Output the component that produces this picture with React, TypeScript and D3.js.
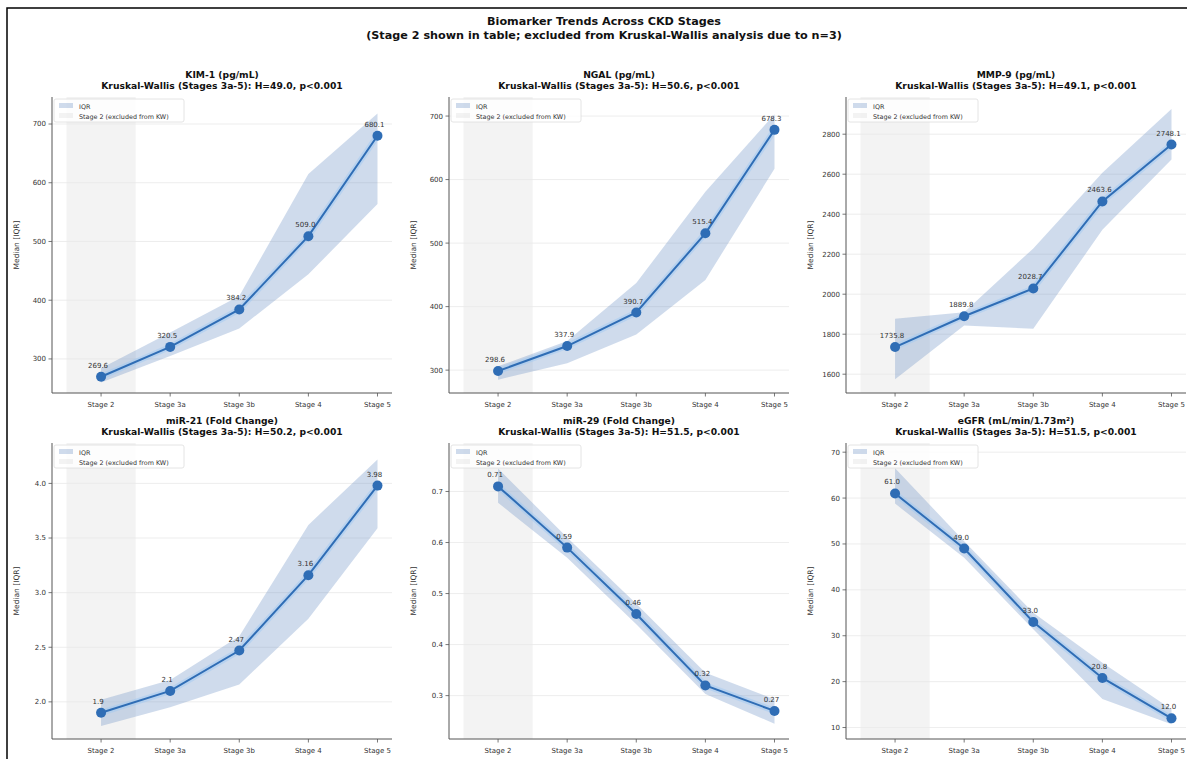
import * as d3 from 'd3'

const stages = ['Stage 2', 'Stage 3a', 'Stage 3b', 'Stage 4', 'Stage 5']

// medians and IQR bounds
const kimMedian = [269.6, 320.5, 384.2, 509.0, 680.1]
const kimQ1 = [260, 305, 352, 444, 564]
const kimQ3 = [284, 345, 407, 615, 718]
const kimLabels = ['269.6', '320.5', '384.2', '509.0', '680.1']

const ngalMedian = [298.6, 337.9, 390.7, 515.4, 678.3]
const ngalQ1 = [285, 311, 356, 442, 617]
const ngalQ3 = [306, 346, 437, 581, 703]
const ngalLabels = ['298.6', '337.9', '390.7', '515.4', '678.3']

const mmpMedian = [1735.8, 1889.8, 2028.7, 2463.6, 2748.1]
const mmpQ1 = [1575, 1843, 1827, 2322, 2674]
const mmpQ3 = [1877, 1910, 2229, 2607, 2926]
const mmpLabels = ['1735.8', '1889.8', '2028.7', '2463.6', '2748.1']

const mir21Median = [1.9, 2.1, 2.47, 3.16, 3.98]
const mir21Q1 = [1.78, 1.95, 2.16, 2.76, 3.59]
const mir21Q3 = [2.02, 2.2, 2.6, 3.62, 4.22]
const mir21Labels = ['1.9', '2.1', '2.47', '3.16', '3.98']

const mir29Median = [0.71, 0.59, 0.46, 0.32, 0.27]
const mir29Q1 = [0.678, 0.57, 0.44, 0.303, 0.245]
const mir29Q3 = [0.745, 0.61, 0.48, 0.345, 0.293]
const mir29Labels = ['0.71', '0.59', '0.46', '0.32', '0.27']

const egfrMedian = [61.0, 49.0, 33.0, 20.8, 12.0]
const egfrQ1 = [58.8, 47, 31.4, 16.2, 10.7]
const egfrQ3 = [66.5, 50.6, 35, 24.1, 14]
const egfrLabels = ['61.0', '49.0', '33.0', '20.8', '12.0']

const kimTicks = [300, 400, 500, 600, 700]
const ngalTicks = [300, 400, 500, 600, 700]
const mmpTicks = [1600, 1800, 2000, 2200, 2400, 2600, 2800]
const mir21Ticks = [2.0, 2.5, 3.0, 3.5, 4.0]
const mir29Ticks = [0.3, 0.4, 0.5, 0.6, 0.7]
const egfrTicks = [10, 20, 30, 40, 50, 60, 70]

const panels = [
  { name: 'KIM-1 (pg/mL)', h: '49.0', median: kimMedian, q1: kimQ1, q3: kimQ3, labels: kimLabels, ticks: kimTicks, ylim: [242, 746], fmt: d3.format('d') },
  { name: 'NGAL (pg/mL)', h: '50.6', median: ngalMedian, q1: ngalQ1, q3: ngalQ3, labels: ngalLabels, ticks: ngalTicks, ylim: [264, 730], fmt: d3.format('d') },
  { name: 'MMP-9 (pg/mL)', h: '49.1', median: mmpMedian, q1: mmpQ1, q3: mmpQ3, labels: mmpLabels, ticks: mmpTicks, ylim: [1506, 2986], fmt: d3.format('d') },
  { name: 'miR-21 (Fold Change)', h: '50.2', median: mir21Median, q1: mir21Q1, q3: mir21Q3, labels: mir21Labels, ticks: mir21Ticks, ylim: [1.66, 4.37], fmt: d3.format('.1f') },
  { name: 'miR-29 (Fold Change)', h: '51.5', median: mir29Median, q1: mir29Q1, q3: mir29Q3, labels: mir29Labels, ticks: mir29Ticks, ylim: [0.215, 0.795], fmt: d3.format('.1f') },
  { name: 'eGFR (mL/min/1.73m²)', h: '51.5', median: egfrMedian, q1: egfrQ1, q3: egfrQ3, labels: egfrLabels, ticks: egfrTicks, ylim: [7.5, 72], fmt: d3.format('d') },
]

const W = 1187
const H = 759
const colLeft = [52, 449, 846]
const rowTop = [97, 443]
const axW = 340
const axH = 296

const lineColor = '#2f6db5'
const bandColor = '#6a8fc4'
const textColor = '#333'
const font = 'DejaVu Sans, sans-serif'

function Panel({ p, left, top }: any) {
  const x = d3.scaleLinear().domain([-0.71, 4.21]).range([left, left + axW])
  const y = d3.scaleLinear().domain(p.ylim).range([top + axH, top])
  const idx = stages.map((_, i) => i)

  const area = d3.area<number>()
    .x(i => x(i))
    .y0(i => y(p.q1[i]))
    .y1(i => y(p.q3[i]))
  const line = d3.line<number>()
    .x(i => x(i))
    .y(i => y(p.median[i]))

  const bottom = top + axH
  return (
    <g>
      {/* stage 2 shading */}
      <rect x={x(-0.5)} y={top} width={x(0.5) - x(-0.5)} height={axH} fill="#888" fillOpacity={0.1} />
      {/* grid */}
      {p.ticks.map((t: number) => (
        <line key={t} x1={left} x2={left + axW} y1={y(t)} y2={y(t)} stroke="#e8e8e8" strokeWidth={0.8} />
      ))}
      <path d={area(idx) || ''} fill={bandColor} fillOpacity={0.32} />
      <path d={line(idx) || ''} fill="none" stroke="#9cc8f5" strokeOpacity={0.45} strokeWidth={6} />
      <path d={line(idx) || ''} fill="none" stroke={lineColor} strokeWidth={2} />
      {idx.map(i => (
        <circle key={i} cx={x(i)} cy={y(p.median[i])} r={5} fill={lineColor} />
      ))}
      {idx.map(i => (
        <text key={'l' + i} x={x(i) - 3} y={y(p.median[i]) - 9} fontSize={7} fill={textColor} textAnchor="middle" fontFamily={font}>
          {p.labels[i]}
        </text>
      ))}
      {/* spines */}
      <line x1={left} x2={left} y1={top} y2={bottom} stroke="#555" strokeWidth={1} />
      <line x1={left} x2={left + axW} y1={bottom} y2={bottom} stroke="#555" strokeWidth={1} />
      {p.ticks.map((t: number) => (
        <g key={'yt' + t}>
          <line x1={left - 3.5} x2={left} y1={y(t)} y2={y(t)} stroke="#555" strokeWidth={0.8} />
          <text x={left - 6} y={y(t)} dy="0.35em" fontSize={7} textAnchor="end" fill={textColor} fontFamily={font}>
            {p.fmt(t)}
          </text>
        </g>
      ))}
      {stages.map((s, i) => (
        <g key={s}>
          <line x1={x(i)} x2={x(i)} y1={bottom} y2={bottom + 3.5} stroke="#555" strokeWidth={0.8} />
          <text x={x(i)} y={bottom + 14} fontSize={7} textAnchor="middle" fill={textColor} fontFamily={font}>
            {s}
          </text>
        </g>
      ))}
      <text transform={`translate(${left - 33},${top + axH / 2}) rotate(-90)`} fontSize={7.5} textAnchor="middle" fill={textColor} fontFamily={font}>
        Median [IQR]
      </text>
      {/* titles */}
      <text x={left + axW / 2} y={top - 19} fontSize={9.2} fontWeight="bold" textAnchor="middle" fill="#111" fontFamily={font}>
        {p.name}
      </text>
      <text x={left + axW / 2} y={top - 8} fontSize={9.2} fontWeight="bold" textAnchor="middle" fill="#111" fontFamily={font}>
        {`Kruskal-Wallis (Stages 3a-5): H=${p.h}, p<0.001`}
      </text>
      {/* legend */}
      <g transform={`translate(${left + 2},${top + 2})`}>
        <rect width={130} height={23} rx={2} fill="#fff" fillOpacity={0.8} stroke="#ddd" strokeWidth={0.8} />
        <rect x={5} y={4} width={14} height={5} fill={bandColor} fillOpacity={0.32} />
        <text x={25} y={9.5} fontSize={6.4} fill={textColor} fontFamily={font}>IQR</text>
        <rect x={5} y={14} width={14} height={5} fill="#888" fillOpacity={0.1} />
        <text x={25} y={19.5} fontSize={6.4} fill={textColor} fontFamily={font}>Stage 2 (excluded from KW)</text>
      </g>
    </g>
  )
}

export default function App() {
  return (
    <div style={{ position: 'fixed', left: 0, top: 0, width: W, height: H, background: '#fff' }}>
      <svg width={W} height={H} style={{ display: 'block' }}>
        <rect x={0} y={0} width={W} height={H} fill="#fff" />
        <rect x={7} y={8} width={W + 20} height={H + 20} fill="none" stroke="#000" strokeWidth={1.5} />
        <text x={604} y={25} fontSize={11.2} fontWeight="bold" textAnchor="middle" fill="#111" fontFamily={font}>
          Biomarker Trends Across CKD Stages
        </text>
        <text x={604} y={39} fontSize={11.2} fontWeight="bold" textAnchor="middle" fill="#111" fontFamily={font}>
          (Stage 2 shown in table; excluded from Kruskal-Wallis analysis due to n=3)
        </text>
        {panels.map((p, k) => (
          <Panel key={p.name} p={p} left={colLeft[k % 3]} top={rowTop[Math.floor(k / 3)]} />
        ))}
      </svg>
    </div>
  )
}
